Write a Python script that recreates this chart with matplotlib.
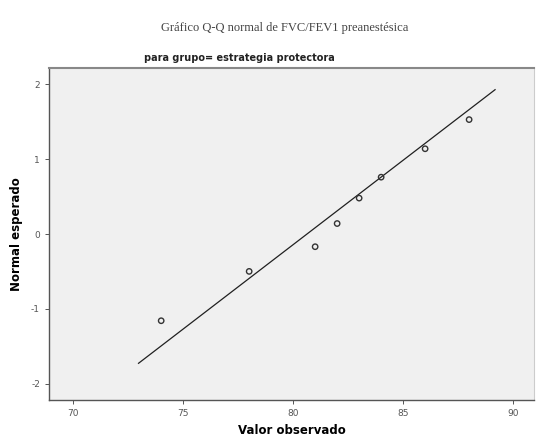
import matplotlib
matplotlib.use("Agg")
import matplotlib.pyplot as plt

plt.rcParams["axes.unicode_minus"] = False

# observed values and expected normal quantiles
observed = [74, 78, 81, 82, 83, 84, 86, 88]
expected = [-1.16, -0.50, -0.17, 0.14, 0.48, 0.76, 1.14, 1.53]

# reference line (mean / sd of the fitted normal)
line_mean = 80.63
line_sd = 4.43
line_x = [72.97, 89.18]

xticks = [70, 75, 80, 85, 90]
yticks = [-2, -1, 0, 1, 2]

fig = plt.figure(figsize=(5.39, 4.40), dpi=100)
ax = fig.add_axes([49 / 539, 40 / 440, 485 / 539, 332 / 440])
ax.set_facecolor("#f0f0f0")

line_y = [(x - line_mean) / line_sd for x in line_x]
ax.plot(line_x, line_y, color="#202020", lw=0.9)
ax.scatter(observed, expected, s=15, facecolors="none", edgecolors="#333333", linewidths=1.0, zorder=3)

ax.set_xlim(68.9, 90.95)
ax.set_ylim(-2.22, 2.22)
ax.set_xticks(xticks)
ax.set_yticks(yticks)
ax.tick_params(labelsize=6.5, colors="#555555", length=3, width=0.7)

for side in ("left", "bottom"):
    ax.spines[side].set_color("#555555")
    ax.spines[side].set_linewidth(1.0)
ax.spines["top"].set_color("#888888")
ax.spines["top"].set_linewidth(1.5)
ax.spines["right"].set_color("#cccccc")

ax.set_xlabel("Valor observado", fontsize=8.5, fontweight="bold", labelpad=4)
ax.set_ylabel("Normal esperado", fontsize=8.5, fontweight="bold", labelpad=6)

fig.text(0.529, 0.937, "Gráfico Q-Q normal de FVC/FEV1 preanestésica",
         ha="center", va="center", fontsize=9, family="Liberation Serif", color="#444444")
fig.text(0.445, 0.868, "para grupo= estrategia protectora",
         ha="center", va="center", fontsize=7, fontweight="bold", color="#222222")

fig.savefig("out.png", dpi=100)
